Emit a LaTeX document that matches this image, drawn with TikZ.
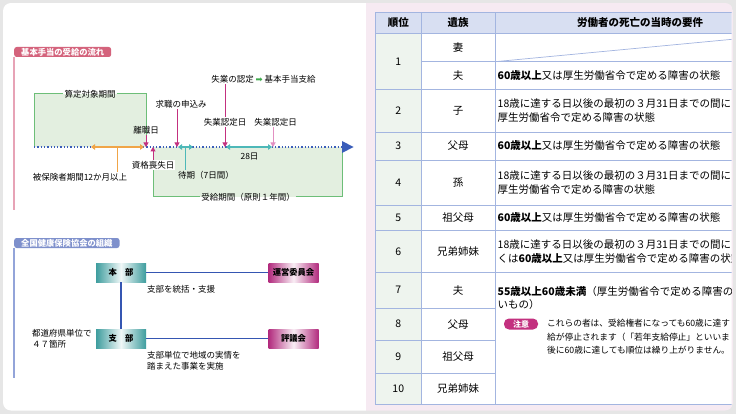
\documentclass[tikz,border=0pt]{standalone}
\usepackage{fontspec}
\newfontfamily\jp{Noto Sans CJK JP}
\newfontfamily\sym{DejaVu Sans}
\usetikzlibrary{arrows.meta}
\definecolor{bggray}{HTML}{E6E6E6}
\definecolor{panelpink}{HTML}{F6EAF2}
\definecolor{tabpink}{HTML}{D4637C}
\definecolor{tabblue}{HTML}{7E90CC}
\definecolor{linepink}{HTML}{E7A3B6}
\definecolor{lineblue}{HTML}{93A4D9}
\definecolor{boxgreen}{HTML}{E3EFE0}
\definecolor{edgegreen}{HTML}{6DBE78}
\definecolor{dotblue}{HTML}{3A5DB9}
\definecolor{orangeline}{HTML}{F0A548}
\definecolor{magline}{HTML}{C3307F}
\definecolor{pinkline}{HTML}{E290C2}
\definecolor{tealline}{HTML}{4DB8B8}
\definecolor{tealbox}{HTML}{3E9D9E}
\definecolor{magbox}{HTML}{B22C7E}
\definecolor{orgblue}{HTML}{3556B2}
\definecolor{gridblue}{HTML}{A3B5E0}
\definecolor{headblue}{HTML}{D8DFF2}
\definecolor{rankgreen}{HTML}{EEF4EE}
\definecolor{arrgreen}{HTML}{3DAA4B}
\tikzset{
  tabtitle/.style={anchor=west, fill=#1, text=white, rounded corners=2.5pt,
    font=\jp\bfseries\fontsize{8.3}{10}\selectfont, inner xsep=7pt, inner ysep=0pt, minimum height=10pt},
  greenedge/.style={edgegreen, line width=1pt},
  mag/.style={magline, line width=1pt, -{Triangle[length=4.5pt,width=5pt]}},
  dbl/.style={line width=1.6pt, {Triangle[length=4pt,width=5.5pt]}-{Triangle[length=4pt,width=5.5pt]}},
  orgbox/.style={minimum width=50pt, minimum height=19pt, inner sep=0pt,
    left color=#1, right color=#1, middle color=#1!8,
    font=\jp\bfseries\fontsize{8.3}{10}\selectfont},
  cell/.style={font=\jp\fontsize{10.5}{14}\selectfont, inner sep=0pt},
  req/.style={cell, anchor=west, align=left},
  notetag/.style={fill=magline, text=white, rounded corners=5pt, inner sep=0pt,
    minimum width=34pt, minimum height=11pt, font=\jp\bfseries\fontsize{8}{9}\selectfont}
}
\begin{document}
\begin{tikzpicture}[x=1pt, y=-1pt, every node/.style={font=\jp\fontsize{8.5}{11.3}\selectfont, inner sep=1pt}]
  \useasboundingbox (0,0) rectangle (736,414);
  \fill[bggray] (0,0) rectangle (736,414);
  \begin{scope}
    \clip[rounded corners=8pt] (3,3) rectangle (733,410.5);
    \fill[white] (3,3) rectangle (366,410.5);
    \fill[panelpink] (366,3) rectangle (733,410.5);
  \end{scope}

  % flow of the basic allowance
  \node[tabtitle=tabpink] (flowtitle) at (14,52) {基本手当の受給の流れ};
  \draw[linepink, line width=1.5pt] (flowtitle.south west) -- ++(0,153);
  \fill[boxgreen] (34,94) rectangle (146,147);
  \fill[boxgreen] (153,147) rectangle (342,197);
  \node (santei) at (90,94) {算定対象期間};
  \node (jukyu) at (248,197) {受給期間（原則１年間）};
  \node[fill=white] (soshitsu) at (153,165) {資格喪失日};
  \draw[greenedge] (santei.west) -| (34,147);
  \draw[greenedge] (santei.east) -| (146,147);
  \draw[greenedge] (jukyu.west) -| (soshitsu.south);
  \draw[greenedge] (jukyu.east) -| (342,147);

  \coordinate (tstart) at (34,147);
  \coordinate (tend) at (342,147);
  \draw[dotblue, line width=1.3pt, dash pattern=on 1.3pt off 2pt] (tstart) -- (tend);
  \fill[dotblue] (tend) -- ++(0,-6) -- ++(11.5,6) -- ++(-11.5,6) -- cycle;

  \coordinate (o1) at (91,147);
  \coordinate (o2) at (144,147);
  \coordinate (o3) at (117,147);
  \node (hiho) at (80,177) {被保険者期間12か月以上};
  \draw[dbl, orangeline] (o1) -- (o2);
  \draw[orangeline, line width=1pt] (o3) -- (o3 |- hiho.north);

  \node (rishoku) at (146,130) {離職日};
  \draw[mag] (rishoku.south) -- (rishoku.south |- tend);
  \draw[mag] (soshitsu.north) -- (soshitsu.north |- tend);
  \node (kyushoku) at (181,104) {求職の申込み};
  \coordinate (k1) at (177,147);
  \draw[mag] (k1 |- kyushoku.south) -- (k1);
  \node (shikyu) at (263.5,79) {失業の認定 {\sym\color{arrgreen}➡} 基本手当支給};
  \node (nintei1) at (225,122) {失業認定日};
  \node (nintei2) at (275.5,122) {失業認定日};
  \coordinate (n1) at (225,147);
  \coordinate (n2) at (273,147);
  \draw[magline, line width=1pt] (n1 |- shikyu.south) -- (nintei1.north);
  \draw[mag] (nintei1.south) -- (n1);
  \draw[mag, pinkline] (n2 |- nintei2.south) -- (n2);

  \coordinate (w1) at (178,147);
  \coordinate (w2) at (193,147);
  \coordinate (w3) at (185,147);
  \node (taiki) at (206,175) {待期（7日間）};
  \draw[dbl, tealline] (w1) -- (w2);
  \draw[tealline, line width=1pt] (w3) -- (w3 |- taiki.north);
  \coordinate (d1) at (226,147);
  \coordinate (d2) at (272,147);
  \draw[dbl, tealline] (d1) -- (d2);
  \node (days) at (249.5,157) {28日};

  % organisation
  \node[tabtitle=tabblue] (orgtitle) at (14,243) {全国健康保険協会の組織};
  \draw[lineblue, line width=1.5pt] (orgtitle.south west) -- ++(0,130);
  \node[orgbox=tealbox] (honbu) at (121,272.5) {本　部};
  \node[orgbox=magbox] (unei) at (293.5,272.5) {運営委員会};
  \node[orgbox=tealbox] (shibu) at (121,338.5) {支　部};
  \node[orgbox=magbox] (hyogi) at (293.5,338.5) {評議会};
  \draw[orgblue, line width=1pt] (honbu) -- (unei);
  \draw[orgblue, line width=1pt] (shibu) -- (hyogi);
  \draw[orgblue, line width=2pt] (honbu) -- (shibu);
  \node[anchor=west] (tokatsu) at (146,289) {支部を統括・支援};
  \node[anchor=west, align=left] (todofuken) at (31,338.5) {都道府県単位で\\４７箇所};
  \node[anchor=west, align=left] (jisshi) at (146,360.5) {支部単位で地域の実情を\\踏まえた事業を実施};

  % table of survivors
  \begin{scope}
    \clip (370,5) rectangle (731.7,410);
    \fill[white] (375.5,12.5) rectangle (800,404.5);
    \fill[headblue] (375.5,12.5) rectangle (800,33.5);
    \fill[rankgreen] (375.5,33.5) rectangle (421,404.5);
    \begin{scope}[gridblue, line width=0.9pt]
      \draw (375.5,12.5) rectangle (800,404.5);
      \foreach \y in {33.5,89.3,132,160,205,230.5,272.5}
        \draw (375.5,\y) -- (800,\y);
      \draw (421,61.7) -- (800,61.7);
      \foreach \y in {308,340.5,373}
        \draw (375.5,\y) -- (495,\y);
      \foreach \x in {421,495}
        \draw (\x,12.5) -- (\x,404.5);
      \draw[line width=0.7pt] (495,61.7) -- (793.5,33.5);
    \end{scope}
    \node[cell, font=\jp\bfseries\fontsize{10.5}{14}\selectfont] (hjuni) at (398.3,23) {順位};
    \node[cell, font=\jp\bfseries\fontsize{10.5}{14}\selectfont] (hizoku) at (458,23) {遺族};
    \node[cell, font=\jp\bfseries\fontsize{10.5}{14}\selectfont] (hyoken) at (640,23) {労働者の死亡の当時の要件};
    \node[cell] (rank1) at (398.3,61.4) {1};
    \node[cell] (tsuma) at (458,47.6) {妻};
    \node[cell] (otto1) at (458,75.5) {夫};
    \node[req] (req1) at (497.5,75.5) {{\bfseries 60歳以上}又は厚生労働省令で定める障害の状態};
    \node[cell] (rank2) at (398.3,110.6) {2};
    \node[cell] (ko) at (458,110.6) {子};
    \node[req] (req2) at (497.5,110.6) {18歳に達する日以後の最初の３月31日までの間に\\厚生労働省令で定める障害の状態};
    \node[cell] (rank3) at (398.3,146) {3};
    \node[cell] (fubo1) at (458,146) {父母};
    \node[req] (req3) at (497.5,146) {{\bfseries 60歳以上}又は厚生労働省令で定める障害の状態};
    \node[cell] (rank4) at (398.3,182.5) {4};
    \node[cell] (mago) at (458,182.5) {孫};
    \node[req] (req4) at (497.5,182.5) {18歳に達する日以後の最初の３月31日までの間に\\厚生労働省令で定める障害の状態};
    \node[cell] (rank5) at (398.3,217.7) {5};
    \node[cell] (sofubo1) at (458,217.7) {祖父母};
    \node[req] (req5) at (497.5,217.7) {{\bfseries 60歳以上}又は厚生労働省令で定める障害の状態};
    \node[cell] (rank6) at (398.3,251.5) {6};
    \node[cell] (kyodai1) at (458,251.5) {兄弟姉妹};
    \node[req] (req6) at (497.5,251.5) {18歳に達する日以後の最初の３月31日までの間に\\くは{\bfseries 60歳以上}又は厚生労働省令で定める障害の状態};
    \node[cell] (rank7) at (398.3,290.2) {7};
    \node[cell] (otto2) at (458,290.2) {夫};
    \node[cell] (rank8) at (398.3,324.2) {8};
    \node[cell] (fubo2) at (458,324.2) {父母};
    \node[cell] (rank9) at (398.3,356.7) {9};
    \node[cell] (sofubo2) at (458,356.7) {祖父母};
    \node[cell] (rank10) at (398.3,388.7) {10};
    \node[cell] (kyodai2) at (458,388.7) {兄弟姉妹};
    \node[req, font=\jp\fontsize{10.5}{13.3}\selectfont] (req7) at (497.5,298.3) {{\bfseries 55歳以上60歳未満}（厚生労働省令で定める障害の状態にな\\いもの）};
    \node[notetag] (chui) at (521,324) {注意};
    \node[anchor=west, align=left, font=\jp\fontsize{8.7}{13.3}\selectfont] (notetext) at (546,336.7)
      {これらの者は、受給権者になっても60歳に達す\\給が停止されます（「若年支給停止」といいま\\後に60歳に達しても順位は繰り上がりません。};
  \end{scope}
\end{tikzpicture}
\end{document}
